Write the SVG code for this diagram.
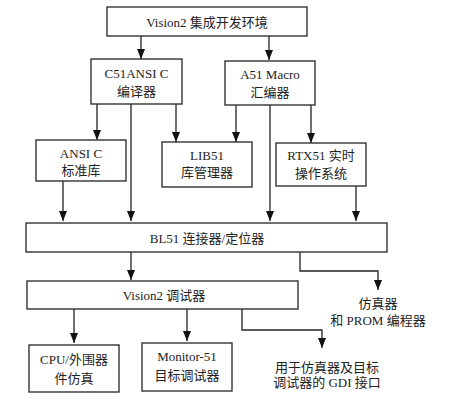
<svg xmlns="http://www.w3.org/2000/svg" width="473" height="410" viewBox="0 0 473 410">
<defs>
<marker id="ah" markerWidth="10" markerHeight="8" refX="10" refY="4" orient="auto" markerUnits="userSpaceOnUse" viewBox="0 0 10 8">
<path d="M0,0 L10,4 L0,8 Z" fill="#111"/>
</marker>
</defs>
<style>
rect{fill:#fff;stroke:#333;stroke-width:1.4}
text{font-family:"Liberation Serif","Times New Roman","Noto Sans CJK SC",serif;font-size:13px;fill:#222;text-anchor:middle;dominant-baseline:central}
.c{fill:none;stroke:#222;stroke-width:1.3}
.a{marker-end:url(#ah)}
</style>
<rect x="0" y="0" width="473" height="410" style="stroke:none"/>
<g id="connectors">
<path class="c a" d="M141,36 V59"/>
<path class="c a" d="M269,36 V60"/>
<path class="c a" d="M97,104 V140"/>
<path class="c a" d="M131,104 V221"/>
<path class="c a" d="M176,104 V142"/>
<path class="c a" d="M236,105 V142"/>
<path class="c a" d="M270,105 V221"/>
<path class="c a" d="M311,105 V143"/>
<path class="c a" d="M63,181 V221"/>
<path class="c a" d="M356,186 V221"/>
<path class="c a" d="M131,252 V280"/>
<path class="c a" d="M300,252 V271 H378 V290"/>
<path class="c a" d="M74,309 V343"/>
<path class="c a" d="M187,309 V341"/>
<path class="c a" d="M242,309 V330 H322 V348"/>
</g>
<g id="ide"><rect x="107" y="7" width="200" height="29"/><text x="207" y="22">Vision2 集成开发环境</text></g>
<g id="c51"><rect x="91" y="59" width="91" height="45"/><text x="136.5" y="73">C51ANSI C</text><text x="136.5" y="91">编译器</text></g>
<g id="a51"><rect x="225" y="61" width="90" height="44"/><text x="270" y="74">A51 Macro</text><text x="270" y="92">汇编器</text></g>
<g id="ansic"><rect x="36" y="140" width="90" height="41"/><text x="81" y="153">ANSI C</text><text x="81" y="170">标准库</text></g>
<g id="lib51"><rect x="162" y="142" width="90" height="45"/><text x="207" y="155">LIB51</text><text x="207" y="172">库管理器</text></g>
<g id="rtx51"><rect x="276" y="143" width="90" height="43"/><text x="321" y="155">RTX51 实时</text><text x="321" y="173">操作系统</text></g>
<g id="bl51"><rect x="26" y="223" width="361" height="29"/><text x="207" y="238">BL51 连接器/定位器</text></g>
<g id="emu"><text x="378" y="303">仿真器</text><text x="378" y="320">和 PROM 编程器</text></g>
<g id="debugger"><rect x="27" y="281" width="271" height="28"/><text x="164" y="295">Vision2 调试器</text></g>
<g id="cpu"><rect x="29" y="345" width="90" height="47"/><text x="74" y="359">CPU/外围器</text><text x="74" y="378">件仿真</text></g>
<g id="monitor"><rect x="142" y="343" width="90" height="48"/><text x="187" y="356">Monitor-51</text><text x="187" y="375">目标调试器</text></g>
<g id="gdi"><text x="327" y="367">用于仿真器及目标</text><text x="327" y="382">调试器的 GDI 接口</text></g>
</svg>
